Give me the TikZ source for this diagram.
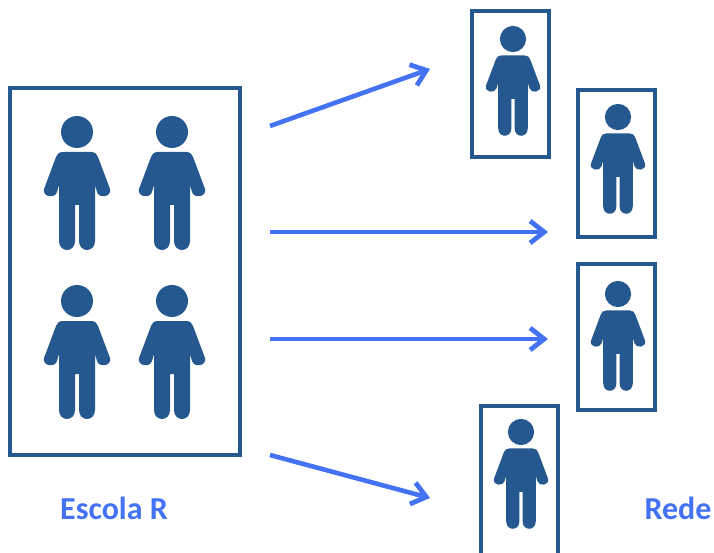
\documentclass[tikz,border=0pt]{standalone}
\usepackage{fontspec}
\setmainfont{Carlito}
\usetikzlibrary{arrows.meta}
\definecolor{navy}{HTML}{25588F}
\definecolor{arrowblue}{HTML}{4472F4}
\tikzset{
  x=1pt,y=-1pt,
  framebox/.style={draw=navy,line width=3.2pt,rectangle,inner sep=0pt,outer sep=0pt,anchor=north west},
  flow/.style={draw=arrowblue,line width=4.6pt,-{Straight Barb[length=14pt,width=22pt,line width=4.8pt]}},
  caption/.style={text=arrowblue,font=\fontsize{32}{34}\selectfont\bfseries,inner sep=0pt,anchor=center},
  pics/person/.style={code={
    \fill[navy] (0,0) circle (16);
    \fill[navy] (-14,20) -- (14,20) .. controls (18,20) and (20,22) .. (21,25)
       -- (33,57) .. controls (35,65) and (22,67) .. (20,60) -- (18,53) -- (18,109)
       .. controls (18,121) and (2,121) .. (2,109) -- (2,73) -- (-2,73) -- (-2,109)
       .. controls (-2,121) and (-18,121) .. (-18,109) -- (-18,53) -- (-20,60)
       .. controls (-22,67) and (-35,65) .. (-33,57) -- (-21,25) .. controls (-20,22) and (-18,20) .. (-14,20) -- cycle;
  }}
}
\begin{document}
\begin{tikzpicture}
\useasboundingbox (0,0) rectangle (714,553);
\node[framebox,minimum width=230pt,minimum height=367pt] (school) at (10,88) {};
\node[framebox,minimum width=77pt,minimum height=146pt] (r1) at (472,11) {};
\node[framebox,minimum width=77pt,minimum height=147pt] (r2) at (578,90) {};
\node[framebox,minimum width=77pt,minimum height=146pt] (r3) at (578,264) {};
\node[framebox,minimum width=77pt,minimum height=160pt] (r4) at (481,406) {};
\pic at (77,132) {person};
\pic at (172,132) {person};
\pic at (77,301) {person};
\pic at (172,301) {person};
\pic[scale=0.82] at (513,39) {person};
\pic[scale=0.82] at (618,117) {person};
\pic[scale=0.82] at (618,294) {person};
\pic[scale=0.82] at (521,432) {person};
\coordinate (a1) at (270,126); \coordinate (b1) at (430,69);
\coordinate (a2) at (270,232); \coordinate (b2) at (548,232);
\coordinate (a3) at (270,339); \coordinate (b3) at (548,339);
\coordinate (a4) at (270,455); \coordinate (b4) at (430,498);
\draw[flow] (a1) -- (b1);
\draw[flow] (a2) -- (b2);
\draw[flow] (a3) -- (b3);
\draw[flow] (a4) -- (b4);
\node[caption] (escola) at (114,508) {Escola R};
\node[caption] (rede) at (678,508) {Rede};
\end{tikzpicture}
\end{document}
